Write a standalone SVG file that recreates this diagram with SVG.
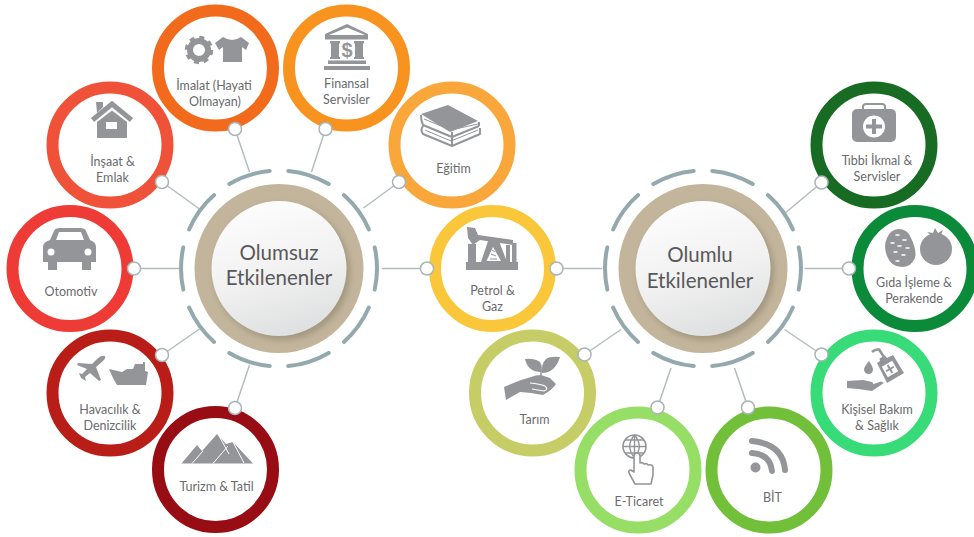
<svg xmlns="http://www.w3.org/2000/svg" width="974" height="537" viewBox="0 0 974 537">
<style>
.ring{fill:#fff;stroke-width:12}
.lbl{font-family:"Lato","Liberation Sans",sans-serif;font-size:12.5px;fill:#6a6b6d;text-anchor:middle}
.hub{font-family:"Lato","Liberation Sans",sans-serif;font-size:20.500px;fill:#58595b;text-anchor:middle}
.ic{fill:#939598}
.icl{fill:none;stroke:#939598}
.w{fill:#fff}
.wl{fill:none;stroke:#fff}
.lk{stroke:#b4bcbc;stroke-width:1.5;fill:none}
.dot{fill:#fff;stroke:#a9b5b6;stroke-width:1.5}
.dash{fill:none;stroke:#94a9ad;stroke-width:4;stroke-linecap:round;stroke-dasharray:25 11;stroke-dashoffset:12.500}
.tan{fill:#c2b59b}
.sh{fill:#a2967f;filter:url(#b)}
.disc{fill:url(#g)}
</style>
<defs>
<filter id="b" x="-20%" y="-20%" width="140%" height="140%"><feGaussianBlur stdDeviation="3"/></filter>
<linearGradient id="g" x1="0.3" y1="0" x2="0.6" y2="1"><stop offset="0" stop-color="#fdfdfd"/><stop offset="0.55" stop-color="#f1f1f1"/><stop offset="1" stop-color="#dedfe0"/></linearGradient>
</defs>
<rect width="974" height="537" fill="#fff"/>

<g id="connectors">
<path class="lk" d="M235 129L249.500 172M325.500 129L311.500 172M162 182L199.500 209M399 182L363.500 208M134 268.500H179M427 268.500H382M162 355L199.500 329M235 408L249.500 365"/>
<path class="lk" d="M556.500 268.500H602M821.500 182.500L784 214M849 268.500H804.500M821.500 354.500L784.500 329.500M748 407.500L734.500 368M657.500 407.500L671 368M584.500 354.500L621 329.500"/>
</g>

<g id="hub-olumsuz">
<circle class="dash" cx="279" cy="268.500" r="98" pathLength="360"/>
<circle class="tan" cx="279" cy="268.500" r="84.500"/>
<circle class="sh" cx="282" cy="272" r="68"/>
<circle class="disc" cx="279" cy="268.500" r="67.500"/>
<text class="hub" x="279" y="259.500">Olumsuz</text>
<text class="hub" x="279" y="284.500">Etkilenenler</text>
</g>

<g id="hub-olumlu">
<circle class="dash" cx="703" cy="268.500" r="98" pathLength="360"/>
<circle class="tan" cx="703" cy="268.500" r="84.500"/>
<circle class="sh" cx="706" cy="272" r="68"/>
<circle class="disc" cx="703" cy="268.500" r="67.500"/>
<text class="hub" x="700" y="261.500">Olumlu</text>
<text class="hub" x="700" y="287.500">Etkilenenler</text>
</g>

<g id="node-imalat">
<circle class="ring" cx="215.500" cy="68" r="57.500" stroke="#f26b1d"/>
<circle class="icl" cx="199" cy="50" r="9" stroke-width="6"/>
<circle class="icl" cx="199" cy="50" r="12.500" stroke-width="3.500" stroke-dasharray="4.900 4.900"/>
<path class="ic" d="M225 37L217 43L221 50L225 47V62H244V47L248 50L251 43L243 37Q234 43 225 37Z" transform="translate(-2 0)"/>
<text class="lbl" x="214" y="90">İmalat (Hayati</text>
<text class="lbl" x="215" y="105.500">Olmayan)</text>
<circle class="dot" cx="235" cy="129" r="6.500"/>
</g>

<g id="node-finansal">
<circle class="ring" cx="346.500" cy="68" r="57.500" stroke="#f7931e"/>
<path class="ic" d="M325 34L347 24L368 34V39.500H325ZM329 35H365L347 27.500Z" fill-rule="evenodd"/>
<rect class="ic" x="330" y="41" width="10" height="2.500"/><rect class="ic" x="354" y="41" width="10" height="2.500"/>
<rect class="ic" x="331" y="43" width="8" height="15"/><rect class="ic" x="355" y="43" width="8" height="15"/>
<rect class="ic" x="330" y="57" width="10" height="2"/><rect class="ic" x="354" y="57" width="10" height="2"/>
<text x="347" y="56.500" text-anchor="middle" font-family="Liberation Sans,sans-serif" font-weight="700" font-size="20" fill="#939598">$</text>
<rect class="ic" x="328" y="60.500" width="38" height="3.500"/><rect class="ic" x="324" y="66" width="46" height="4"/>
<text class="lbl" x="346.500" y="88">Finansal</text>
<text class="lbl" x="346.500" y="103.500">Servisler</text>
<circle class="dot" cx="325.500" cy="129" r="6.500"/>
</g>

<g id="node-insaat">
<circle class="ring" cx="110" cy="145" r="57.500" stroke="#ef5238"/>
<path class="ic" d="M96 102H103V107L97 113Z"/>
<path class="icl" stroke-width="5" stroke-linejoin="miter" d="M92.500 120L112 104L131.500 120"/>
<path class="ic" d="M97 122L112 110.500L127 122V138H97ZM106 122V129H117V122Z" fill-rule="evenodd"/>
<text class="lbl" x="112.500" y="166">İnşaat &amp;</text>
<text class="lbl" x="112.500" y="182">Emlak</text>
<circle class="dot" cx="162" cy="182" r="6.500"/>
</g>

<g id="node-egitim">
<circle class="ring" cx="452" cy="145" r="57.500" stroke="#f9a73b"/>
<path class="ic" d="M421 114L448 105L478 121L450 132Z"/>
<path class="icl" stroke-width="2" stroke-linejoin="round" d="M421 115Q421 121 423 125L452 137L479 126M479 122V126M423 126Q420 130 423 134L452 146L480 134V128M452 132V137M452 138V146"/>
<path class="icl" stroke-width="1" d="M424 119L451 130L478 124M425 130L451 141L478 130"/>
<text class="lbl" x="453.500" y="172.500">Eğitim</text>
<circle class="dot" cx="399" cy="182" r="6.500"/>
</g>

<g id="node-otomotiv">
<circle class="ring" cx="70" cy="268.500" r="57.500" stroke="#ee3b36"/>
<path class="ic" d="M43 247Q43 242 50 240L54 231Q55 228 60 228H80Q85 228 86 231L90 240Q96 242 96 247V262H91V270H82V262H57V270H48V262H43Z"/>
<path class="w" d="M56 240L59 232H81L84 240Z"/>
<circle class="w" cx="51" cy="252" r="3.500"/><circle class="w" cx="88" cy="252" r="3.500"/>
<text class="lbl" x="71" y="296">Otomotiv</text>
<circle class="dot" cx="134" cy="268.500" r="6.500"/>
</g>

<g id="node-petrol">
<circle class="ring" cx="492.500" cy="268.500" r="57.500" stroke="#fbc73a"/>
<path class="ic" d="M466 262H518V270H466Z"/>
<path class="ic" d="M467 227L475 228L478 235L513 240V245L480 240L473 245L468 238Z"/>
<path class="ic" d="M488 241H499L507 262H481ZM493 247L486.500 261H501Z" fill-rule="evenodd"/>
<path class="icl" stroke-width="1" d="M490 259H497M491 254L496 256M492 250L495 252"/>
<rect class="ic" x="468" y="244" width="8" height="18"/><rect class="ic" x="506" y="245" width="4" height="17"/><rect class="ic" x="512" y="243" width="4.500" height="19"/>
<text class="lbl" x="492.500" y="294.500">Petrol &amp;</text>
<text class="lbl" x="492.500" y="310.500">Gaz</text>
<circle class="dot" cx="427" cy="268.500" r="6.500"/>
<circle class="dot" cx="556.500" cy="268.500" r="6.500"/>
</g>

<g id="node-havacilik">
<circle class="ring" cx="110" cy="393" r="57.500" stroke="#b81e17"/>
<path class="ic" d="M105 356Q101 355 97 359L92 364L78 363L77 365L87 369L82 374L79 373L81 378L86 381L85 377L90 373L99 381L101 380L96 367L103 361Q106 358 105 356Z"/>
<path class="ic" d="M109 369L122 372L127 369H133L135 364H139L143 364V362H145V371L148 372L146 385H117L113 378Z"/>
<text class="lbl" x="110" y="413.500">Havacılık &amp;</text>
<text class="lbl" x="110" y="429.500">Denizcilik</text>
<circle class="dot" cx="162" cy="355" r="6.500"/>
</g>

<g id="node-turizm">
<circle class="ring" cx="215.500" cy="469.500" r="57.500" stroke="#980c14"/>
<path class="ic" d="M181.500 463.500L197 445L202 451L217 434L226 444L233 442L253 463.500Z"/>
<path class="wl" stroke-width="1" d="M192 463.500L203 451M213 463.500L228 446M218 434L229 454M233 442L244 463"/>
<text class="lbl" x="216.500" y="490.500">Turizm &amp; Tatil</text>
<circle class="dot" cx="235" cy="408" r="6.500"/>
</g>

<g id="node-tibbi">
<circle class="ring" cx="874" cy="145" r="57.500" stroke="#186b22"/>
<path class="icl" stroke-width="2" d="M863 110V107Q863 104 866 104H882Q885 104 885 107V110"/>
<rect class="ic" x="852" y="109" width="44" height="33" rx="5"/>
<circle class="w" cx="874" cy="126.500" r="11"/>
<path class="ic" d="M872 119H876V124.500H882V128.500H876V134H872V128.500H866V124.500H872Z"/>
<text class="lbl" x="877" y="165">Tıbbi İkmal &amp;</text>
<text class="lbl" x="877" y="181">Servisler</text>
<circle class="dot" cx="821.500" cy="182.500" r="6.500"/>
</g>

<g id="node-gida">
<circle class="ring" cx="915" cy="268.500" r="57.500" stroke="#0b8a3a"/>
<path class="ic" d="M898 229Q908 229 911 238Q917 250 915 258Q911 267 902 267Q891 267 887 256Q883 246 887 238Q890 230 898 229Z"/>
<path class="wl" stroke-width="1.500" stroke-linecap="round" d="M896 235h3M903 240h3M891 243h3M898 246h3M906 248h3M894 252h3M902 255h3M896 261h3"/>
<circle class="ic" cx="936" cy="249" r="16"/>
<path class="ic" d="M932 236L927 232L933 233L935 228L938 233L943 230L941 235L946 238L938 238Z"/>
<text class="lbl" x="914" y="286.500">Gıda İşleme &amp;</text>
<text class="lbl" x="914" y="302.500">Perakende</text>
<circle class="dot" cx="849" cy="268.500" r="6.500"/>
</g>

<g id="node-kisisel">
<circle class="ring" cx="874" cy="393" r="57.500" stroke="#37db78"/>
<path class="ic" d="M877 363L880 361L879.500 358.500L885 355.500L887 358L893 355L904 373L887 383Z"/>
<path class="icl" stroke-width="2.500" d="M872 352Q875 349 879 349.500L884 357"/>
<rect class="w" x="884" y="363" width="12" height="12" transform="rotate(-30 890 369)"/>
<path class="ic" d="M889 364.500H891V368H894.500V370H891V373.500H889V370H885.500V368H889Z" transform="rotate(-30 890 369)"/>
<path class="ic" d="M869 361Q864 367 864 369.500A4.500 4.500 0 0 0 873 369.500Q873 367 869 361Z"/>
<path class="ic" d="M847 381L863 380L872 382Q875 384 871 385L868 386L881 381.500L884 383L872 391L858 389L847 388Z"/>
<text class="lbl" x="877" y="414">Kişisel Bakım</text>
<text class="lbl" x="877" y="430">&amp; Sağlık</text>
<circle class="dot" cx="821.500" cy="354.500" r="6.500"/>
</g>

<g id="node-bit">
<circle class="ring" cx="769" cy="470" r="57.500" stroke="#72bf3a"/>
<circle class="ic" cx="755.500" cy="467.500" r="5"/>
<path class="icl" stroke-width="6" stroke-linecap="round" d="M752 441Q783 444 785 470M752 453Q770 454 772 471"/>
<text class="lbl" x="772.500" y="501.500">BİT</text>
<circle class="dot" cx="748" cy="407.500" r="6.500"/>
</g>

<g id="node-eticaret">
<circle class="ring" cx="638" cy="470" r="57.500" stroke="#96de65"/>
<circle class="icl" stroke-width="1.600" cx="634.500" cy="446.500" r="11.500"/>
<path class="icl" stroke-width="1.400" d="M623 446.500H646M625 440H644M625 453H644M634.500 435V458M634.500 435Q625 446 634.500 458M634.500 435Q644 446 634.500 458"/>
<path fill="#fff" stroke="#939598" stroke-width="1.600" stroke-linejoin="round" d="M635 484L629 473Q628 470 631 470L634 472V456Q634 453 637 453Q640 453 640 456V463Q643 462 644 464Q647 463 648 465Q652 464 653 467V475L651 484Z"/>
<text class="lbl" x="639" y="506">E-Ticaret</text>
<circle class="dot" cx="657.500" cy="407.500" r="6.500"/>
</g>

<g id="node-tarim">
<circle class="ring" cx="532.500" cy="393" r="57.500" stroke="#c6cc66"/>
<path class="ic" d="M525 359Q534 358 540 362Q543 367 541 372Q528 372 525 359ZM560 357Q550 356 546 359Q541 364 542 373Q555 373 560 357Z"/>
<path class="icl" stroke-width="1.500" d="M541 370V378"/>
<path class="ic" d="M504 387L521 380L531 377Q536 375 541 375L550 378L556 384Q552 390 543 395L531 393L520 392L506 400Z"/>
<path class="wl" stroke-width="1.200" d="M530 383Q540 384 545 386Q549 389 544 391L532 389"/>
<text class="lbl" x="534.500" y="423.500">Tarım</text>
<circle class="dot" cx="584.500" cy="354.500" r="6.500"/>
</g>
</svg>
